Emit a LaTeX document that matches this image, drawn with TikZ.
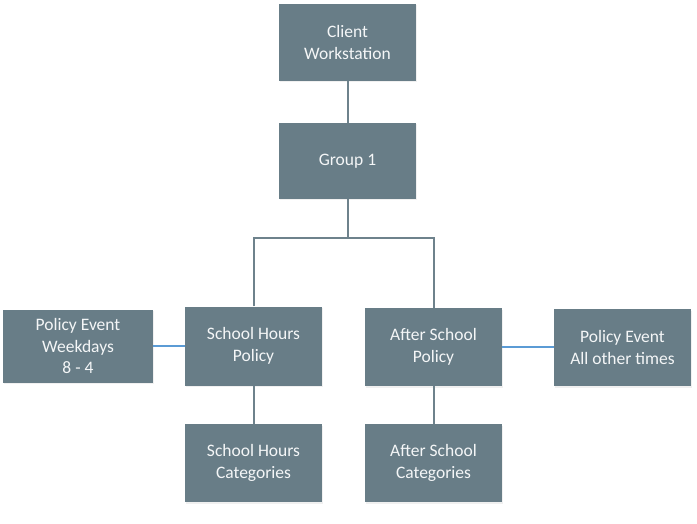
\documentclass[tikz,border=0pt]{standalone}
\usepackage{fontspec}
\setmainfont{Carlito}
\usetikzlibrary{shadows}
\definecolor{boxfill}{HTML}{687D87}
\definecolor{linecol}{HTML}{6E828C}
\definecolor{bluecol}{HTML}{5B9BD5}
\definecolor{txtcol}{HTML}{F4F6F7}
\begin{document}
\begin{tikzpicture}[x=1pt,y=-1pt,
  box/.style={draw=none, fill=boxfill, minimum width=137pt, minimum height=78pt,
    inner sep=0pt, align=center, text=txtcol, font=\fontsize{17.5}{21.5}\selectfont,
    drop shadow={opacity=0.12, shadow xshift=1pt, shadow yshift=-1.5pt}},
  conn/.style={draw=linecol, line width=2pt},
  bconn/.style={draw=bluecol, line width=1.8pt}]
\useasboundingbox (0,0) rectangle (697,524);
\node[box, minimum height=77pt] (cw) at (347.5,42.5) {Client\\Workstation};
\node[box, minimum height=76pt] (g1) at (347.5,161) {Group 1};
\node[box, minimum height=79pt] (shp) at (253.5,346) {School Hours\\Policy};
\node[box] (asp) at (433.5,347) {After School\\Policy};
\node[box, minimum width=150pt, minimum height=73pt] (pew) at (78,346) {Policy Event\\Weekdays\\8 - 4};
\node[box, minimum height=77pt] (peo) at (622.5,347.5) {Policy Event\\All other times};
\node[box] (shc) at (253.5,463) {School Hours\\Categories};
\node[box] (asc) at (433.5,463) {After School\\Categories};
\coordinate (jn) at (347.5,238);
\draw[conn] (cw.south) -- (g1.north);
\draw[conn] (g1.south) -- (jn);
\draw[conn] (shp.north) |- (jn) -| (asp.north);
\draw[conn] (shp.south) -- (shc.north);
\draw[conn] (asp.south) -- (asc.north);
\draw[bconn] (pew.east) -- (pew.east -| shp.west);
\draw[bconn] (asp.east) -- (asp.east -| peo.west);
\end{tikzpicture}
\end{document}
